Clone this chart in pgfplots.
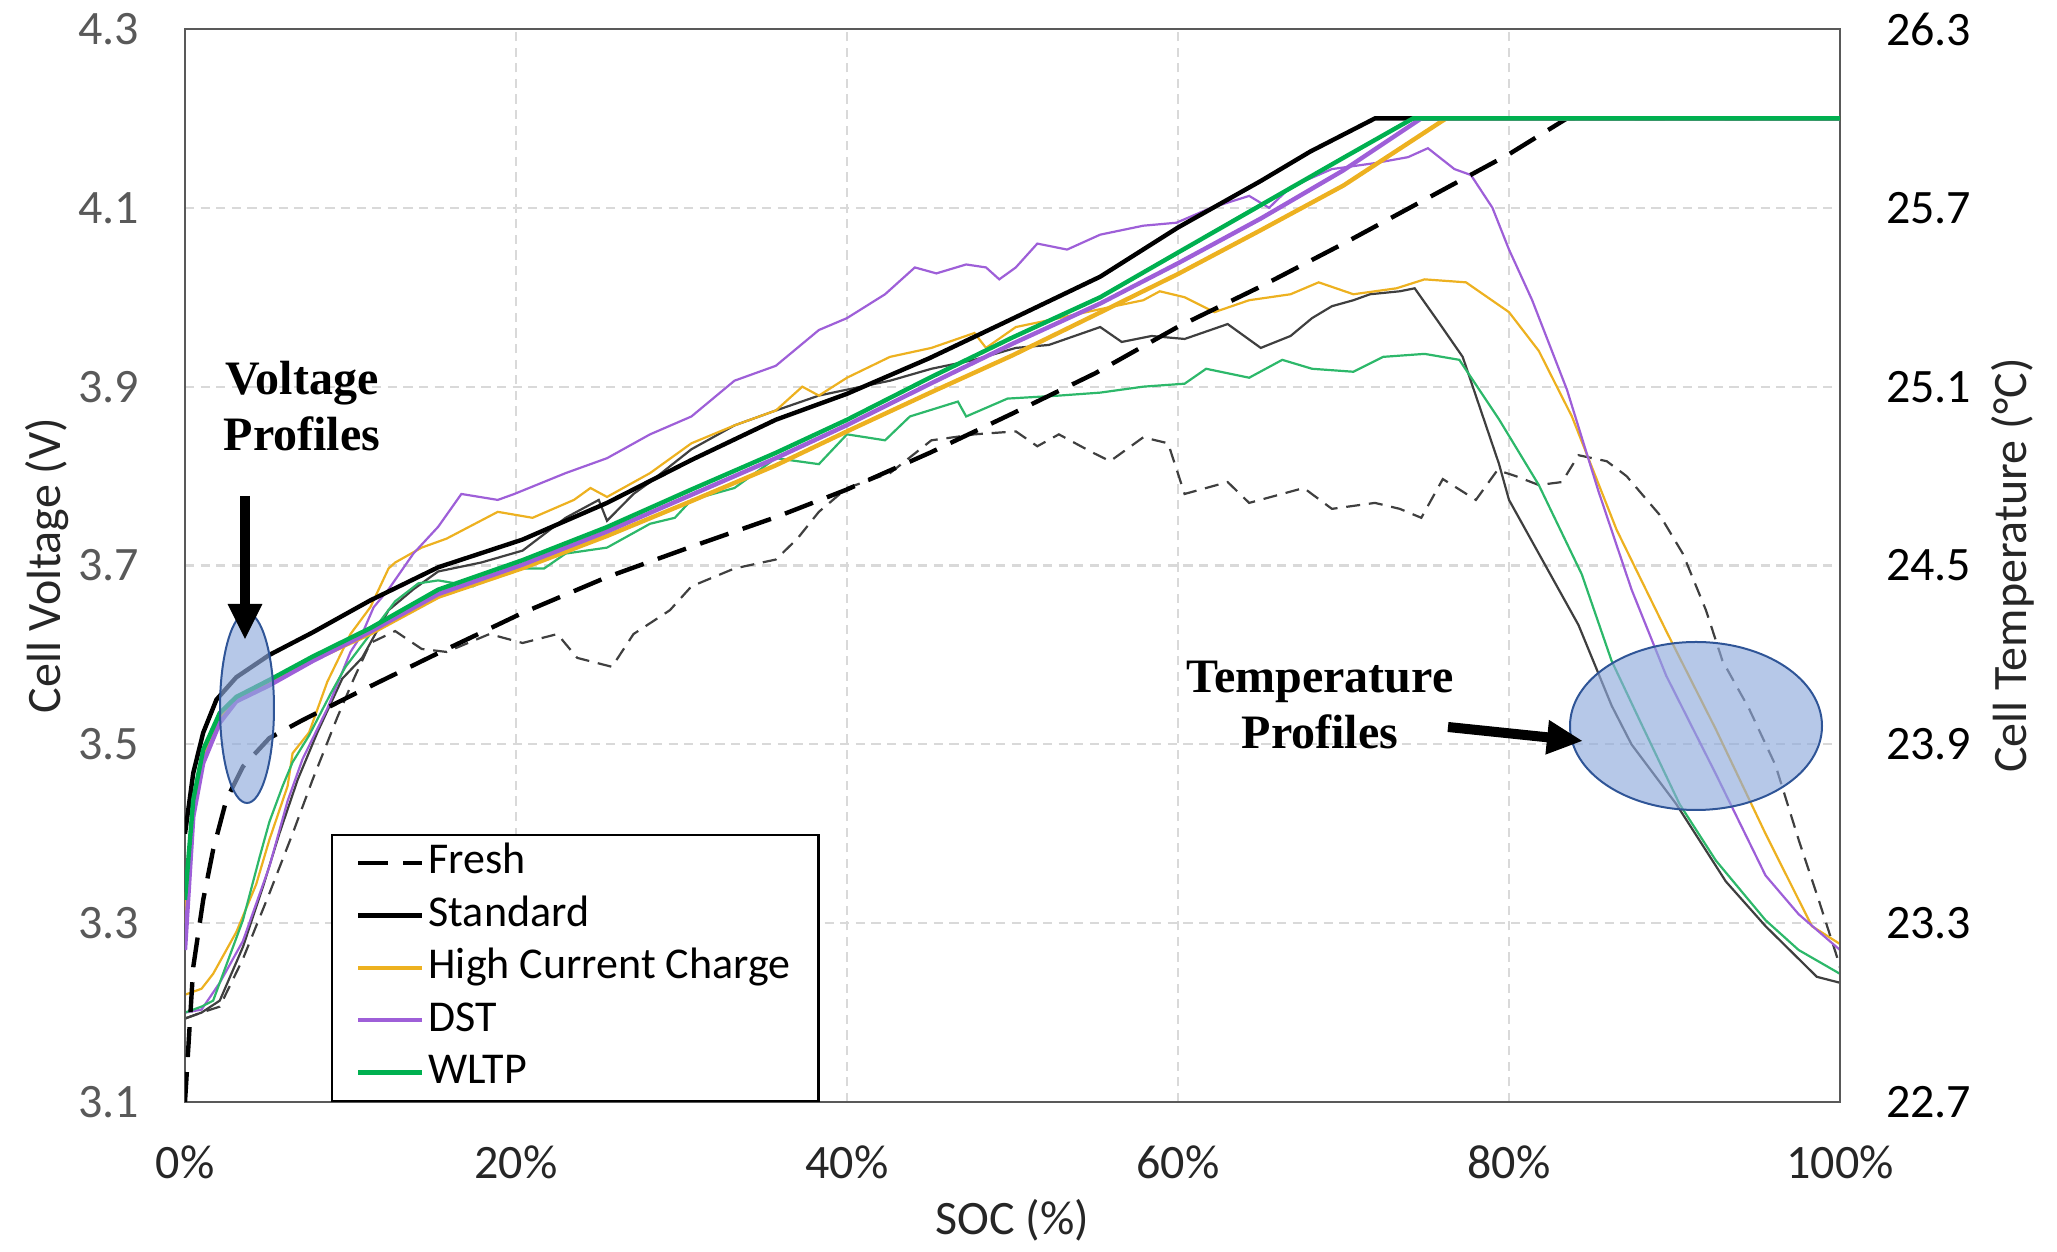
\documentclass[border=0pt]{standalone}
\usepackage{fontspec}
\setmainfont{Carlito}
\newfontfamily\tnr{Liberation Serif}
\usepackage{pgfplots}
\usepackage{pgfplotstable}
\pgfplotsset{compat=1.18}
\usetikzlibrary{arrows.meta}

\definecolor{cOrange}{HTML}{EDB120}
\definecolor{cPurple}{HTML}{9E5FD8}
\definecolor{cGreen}{HTML}{00B050}
\definecolor{cGreenT}{HTML}{2DB86A}
\definecolor{cGrayT}{HTML}{3F3F3F}
\definecolor{cAxis}{HTML}{595959}
\definecolor{cGrid}{HTML}{D9D9D9}
\definecolor{cFill}{HTML}{8FAADC}
\definecolor{cEdge}{HTML}{2F5597}
\definecolor{cText}{HTML}{262626}

% ---------- Voltage profiles (SOC %, V) ----------
\pgfplotstableread{
x y
0 3.10
0.5 3.251
1.1 3.326
1.7 3.382
2.5 3.438
3.5 3.475
5.1 3.507
7.1 3.527
10.1 3.555
15.3 3.602
20.4 3.647
25.5 3.687
30.6 3.721
35.7 3.754
40 3.785
45 3.826
50 3.870
55 3.915
60 3.967
65 4.012
70 4.060
75 4.110
80 4.160
83.5 4.200
100 4.200
}\vFresh
\pgfplotstableread{
x y
0 3.400
0.5 3.468
1.1 3.513
1.9 3.550
3.1 3.575
5.1 3.600
7.7 3.625
11.2 3.661
15.3 3.698
20.4 3.729
25.5 3.770
30.6 3.818
35.7 3.863
40.0 3.892
45 3.932
50 3.976
55.3 4.023
60 4.078
65 4.130
68 4.163
71.9 4.200
100 4.200
}\vStd
\pgfplotstableread{
x y
0 3.300
0.5 3.430
1.1 3.487
2.1 3.530
3.1 3.550
5.1 3.568
7.7 3.594
11.2 3.624
15.3 3.665
20.4 3.697
25.5 3.733
30.6 3.772
35.7 3.812
40 3.850
45 3.893
50 3.935
55.3 3.983
60 4.026
65 4.075
70 4.125
76.2 4.200
100 4.200
}\vHCC
\pgfplotstableread{
x y
0 3.270
0.5 3.419
1.1 3.479
2.1 3.524
3.1 3.548
5.1 3.566
7.7 3.593
11.2 3.626
15.3 3.668
20.4 3.701
25.5 3.738
30.6 3.779
35.7 3.820
40 3.857
45 3.903
50 3.948
55.3 3.993
60 4.038
65 4.088
70 4.142
74.7 4.200
100 4.200
}\vDST
\pgfplotstableread{
x y
0 3.326
0.5 3.438
1.1 3.494
2.1 3.535
3.1 3.553
5.1 3.572
7.7 3.598
11.2 3.630
15.3 3.673
20.4 3.706
25.5 3.743
30.6 3.785
35.7 3.826
40.0 3.863
45 3.910
50 3.955
55.3 4.000
60 4.050
65 4.103
70 4.156
74.2 4.200
100 4.200
}\vWLTP

% ---------- Temperature profiles (SOC %, degC) ----------
\pgfplotstableread{
x y
0 22.98
1 23.00
2.1 23.02
3.5 23.18
5.1 23.40
6.5 23.60
7.7 23.78
9.2 23.99
10.2 24.12
11.2 24.24
12.7 24.28
14.3 24.22
15.8 24.21
18.4 24.27
20.4 24.24
22.5 24.27
23.7 24.19
25.8 24.16
27.1 24.27
29.3 24.35
30.6 24.43
33.2 24.49
35.7 24.52
37.0 24.59
38.3 24.68
40.0 24.76
42.6 24.81
45.1 24.92
47.7 24.94
50.2 24.95
51.5 24.90
52.8 24.94
54.8 24.88
55.9 24.85
57.9 24.93
59.4 24.91
60.4 24.74
63.0 24.78
64.3 24.71
67.6 24.76
69.3 24.69
71.9 24.71
73.4 24.69
74.7 24.66
76.0 24.79
78.0 24.72
79.3 24.82
80.4 24.80
81.8 24.77
83.2 24.78
84.2 24.87
85.9 24.85
87.1 24.80
89.1 24.67
90.5 24.54
91.9 24.35
92.9 24.18
94.5 24.02
96.1 23.83
97.5 23.58
98.7 23.38
99.8 23.19
100 23.15
}\tFresh
\pgfplotstableread{
x y
0 22.98
1 23.00
2.1 23.04
3.5 23.22
4.7 23.42
5.7 23.60
6.8 23.78
8.0 23.94
9.5 24.12
10.7 24.19
12.3 24.35
13.8 24.42
15.3 24.48
17.9 24.51
20.4 24.55
23.0 24.66
25.0 24.72
25.5 24.65
27.1 24.74
28.1 24.78
30.6 24.89
33.2 24.97
35.7 25.02
38.3 25.07
40.0 25.09
42.6 25.12
45.1 25.16
47.7 25.19
50.2 25.23
52.2 25.24
55.3 25.30
56.6 25.25
58.4 25.27
60.4 25.26
63.0 25.31
65.0 25.23
66.8 25.27
68.1 25.33
69.3 25.37
70.6 25.39
71.6 25.41
73.4 25.42
74.3 25.43
75.7 25.32
77.2 25.20
79.4 24.84
80.0 24.72
81.8 24.54
84.2 24.30
86.2 24.03
87.4 23.90
90.1 23.70
93.1 23.44
95.5 23.29
98.6 23.12
100 23.10
}\tStd
\pgfplotstableread{
x y
0 23.06
1 23.08
1.7 23.13
3.1 23.27
4.3 23.43
5.1 23.58
6.2 23.76
6.5 23.87
7.5 23.94
8.6 24.11
10.0 24.27
11.2 24.36
12.3 24.49
12.7 24.51
14.3 24.56
15.8 24.59
18.9 24.68
21.0 24.66
23.5 24.72
24.5 24.76
25.5 24.73
28.1 24.81
30.6 24.91
33.2 24.97
35.7 25.02
37.3 25.10
38.3 25.07
40.0 25.13
42.6 25.20
45.1 25.23
47.7 25.28
48.4 25.23
50.2 25.30
52.8 25.33
55.3 25.36
57.9 25.39
58.9 25.42
60.4 25.40
62.2 25.35
64.3 25.39
66.8 25.41
68.5 25.45
70.6 25.41
73.2 25.43
74.9 25.46
77.4 25.45
80.0 25.35
81.8 25.22
83.8 25.00
86.5 24.62
89.5 24.28
92.5 23.95
95.5 23.60
98.3 23.29
100 23.23
}\tHCC
\pgfplotstableread{
x y
0 23.00
1 23.01
2.1 23.10
3.5 23.24
5.1 23.49
6.2 23.71
7.1 23.85
8.6 24.02
10.0 24.21
10.7 24.27
11.4 24.36
12.3 24.42
13.8 24.54
15.3 24.63
16.7 24.74
18.9 24.72
19.9 24.74
23.0 24.81
25.5 24.86
28.1 24.94
30.6 25.00
33.2 25.12
35.7 25.17
38.3 25.29
40.0 25.33
42.3 25.41
44.1 25.50
45.4 25.48
47.2 25.51
48.4 25.50
49.2 25.46
50.2 25.50
51.5 25.58
53.3 25.56
55.3 25.61
57.9 25.64
59.9 25.65
62.0 25.70
64.3 25.74
65.5 25.70
66.8 25.77
69.3 25.83
71.9 25.85
73.9 25.87
75.1 25.90
76.7 25.83
77.7 25.81
79.0 25.70
80.0 25.56
81.4 25.39
83.5 25.09
85.4 24.75
87.4 24.42
89.5 24.13
92.5 23.80
95.5 23.46
97.5 23.33
100 23.21
}\tDST
\pgfplotstableread{
x y
0 23.00
1 23.02
1.7 23.04
2.3 23.13
3.5 23.31
4.5 23.52
5.1 23.64
5.9 23.76
6.5 23.84
7.5 23.93
8.8 24.07
9.7 24.16
11.2 24.27
12.7 24.38
14.1 24.44
15.3 24.45
17.4 24.43
19.4 24.49
21.7 24.49
23.0 24.54
25.5 24.56
28.1 24.64
29.6 24.66
30.6 24.72
33.2 24.76
35.7 24.86
38.3 24.84
40.0 24.94
42.3 24.92
43.8 25.00
46.7 25.05
47.2 25.00
49.7 25.06
52.8 25.07
55.3 25.08
57.9 25.10
60.4 25.11
61.7 25.16
64.3 25.13
66.3 25.19
68.1 25.16
70.6 25.15
72.4 25.20
74.9 25.21
77.0 25.19
79.4 24.99
81.8 24.77
84.4 24.47
86.2 24.18
87.9 23.98
90.3 23.70
92.5 23.51
95.5 23.31
97.5 23.21
100 23.13
}\tWLTP

\begin{document}
\begin{tikzpicture}
\useasboundingbox (-46.25pt,-37.5pt) rectangle (468pt,275.5pt);

% ---------- temperature axis (right) with grid ----------
\begin{axis}[
  at={(0pt,0pt)}, anchor=south west,
  scale only axis, width=413.75pt, height=268.25pt,
  xmin=0, xmax=100, ymin=22.7, ymax=26.3,
  xtick={0,20,40,60,80,100}, xticklabels={},
  ytick={22.7,23.3,23.9,24.5,25.1,25.7,26.3},
  yticklabel pos=right,
  axis line style={draw=none},
  major tick length=0pt,
  grid=major,
  major grid style={cGrid, line width=0.55pt, dash pattern=on 2.3pt off 1.6pt},
  /pgf/number format/assume math mode=true,
  /pgf/number format/.cd, fixed, fixed zerofill, precision=1, /pgfplots/.cd,
  yticklabel style={font=\fontsize{12}{14}\selectfont, color=black, anchor=west, xshift=8pt},
  ylabel={Cell Temperature (°C)},
  ylabel style={at={(axis description cs:1,0.5)}, anchor=center, yshift=-43.25pt,
    font=\fontsize{12}{14}\selectfont, color=cText},
]
\addplot[cGrayT, line width=0.55pt, dash pattern=on 3.5pt off 2.2pt] table {\tFresh};
\addplot[cGrayT, line width=0.55pt] table {\tStd};
\addplot[cOrange, line width=0.55pt] table {\tHCC};
\addplot[cPurple, line width=0.55pt] table {\tDST};
\addplot[cGreenT, line width=0.55pt] table {\tWLTP};
\end{axis}

% ---------- voltage axis (left) ----------
\begin{axis}[
  at={(0pt,0pt)}, anchor=south west,
  scale only axis, width=413.75pt, height=268.25pt,
  xmin=0, xmax=100, ymin=3.1, ymax=4.3,
  xtick={0,20,40,60,80,100},
  ytick={3.1,3.3,3.5,3.7,3.9,4.1,4.3},
  axis line style={cAxis, line width=0.55pt},
  major tick length=0pt,
  /pgf/number format/assume math mode=true,
  yticklabel={\pgfmathprintnumber[fixed,fixed zerofill,precision=1]{\tick}},
  xticklabel={\pgfmathprintnumber{\tick}\%},
  yticklabel style={font=\fontsize{12}{14}\selectfont, color=cAxis, anchor=east, xshift=-8pt},
  xticklabel style={font=\fontsize{12}{14}\selectfont, color=cText, anchor=north, yshift=-7.5pt},
  xlabel={SOC (\%)},
  xlabel style={at={(axis description cs:0.5,0)}, anchor=center, yshift=-29.5pt,
    font=\fontsize{12}{14}\selectfont, color=cText},
  ylabel={Cell Voltage (V)},
  ylabel style={at={(axis description cs:0,0.5)}, anchor=center, yshift=34.5pt,
    font=\fontsize{12}{14}\selectfont, color=cText},
  legend cell align=left,
  legend image code/.code={\draw[#1] (0pt,0pt) -- (16pt,0pt);},
  legend style={at={(axis cs:8.82,3.1)}, anchor=south west, draw=black, line width=0.6pt,
    fill=white, font=\fontsize{11}{13}\selectfont, inner xsep=6pt, inner ysep=1.8pt,
    row sep=2.6pt,
    nodes={inner xsep=1pt, inner ysep=0pt, text height=8pt, text depth=2.5pt}},
]
\addplot[black, line width=1.1pt, dash pattern=on 7.5pt off 3.75pt] table {\vFresh};
\addlegendentry{Fresh}
\addplot[black, line width=1.1pt] table {\vStd};
\addlegendentry{Standard}
\addplot[cOrange, line width=1.1pt] table {\vHCC};
\addlegendentry{High Current Charge}
\addplot[cPurple, line width=1.1pt] table {\vDST};
\addlegendentry{DST}
\addplot[cGreen, line width=1.1pt] table {\vWLTP};
\addlegendentry{WLTP}
\end{axis}

% ---------- annotations ----------
\fill[cFill, fill opacity=0.65] (15.5pt,98.5pt) ellipse [x radius=6.75pt, y radius=23.75pt];
\draw[cEdge, line width=0.5pt] (15.5pt,98.5pt) ellipse [x radius=6.75pt, y radius=23.75pt];
\draw[black, line width=2.5pt, -{Triangle[width=8pt,length=9pt]}] (15pt,151.5pt) -- (15pt,115.5pt);
\node[align=center, font=\tnr\bfseries\fontsize{12}{14}\selectfont] at (29.25pt,174pt) {Voltage\\Profiles};

\fill[cFill, fill opacity=0.65] (377.75pt,94pt) ellipse [x radius=31.5pt, y radius=21pt];
\draw[cEdge, line width=0.5pt] (377.75pt,94pt) ellipse [x radius=31.5pt, y radius=21pt];
\draw[black, line width=2.5pt, -{Triangle[width=8pt,length=9pt]}] (315.75pt,93.75pt) -- (349.5pt,90.25pt);
\node[align=center, font=\tnr\bfseries\fontsize{12}{14}\selectfont] at (283.75pt,99.25pt) {Temperature\\Profiles};
\end{tikzpicture}
\end{document}
